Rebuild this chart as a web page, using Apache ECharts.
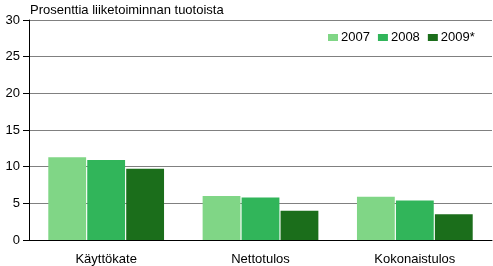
<!DOCTYPE html>
<html>
<head>
<meta charset="utf-8">
<script src="https://cdn.jsdelivr.net/npm/echarts@6/dist/echarts.min.js"></script>
<style>
	html, body { margin: 0; padding: 0; background: #fff; }
	#chart { width: 493px; height: 266px; }
</style>
</head>
<body>
<div id="chart"></div>
<script>
	var categories = ['Käyttökate', 'Nettotulos', 'Kokonaistulos'];
	var seriesNames = ['2007', '2008', '2009*'];
	var values2007 = [11.3, 6.0, 5.9];
	var values2008 = [10.9, 5.8, 5.4];
	var values2009 = [9.7, 4.0, 3.5];
	var colors = ['#80d686', '#31b55a', '#1b6e1b'];

	var font = 'Arial, "Liberation Sans", sans-serif';

	var chart = echarts.init(document.getElementById('chart'));

	function barSeries(name, data) {
		return {
			name: name,
			type: 'bar',
			data: data,
			barGap: '3%',
			barCategoryGap: '25%',
			animation: false
		};
	}

	var option = {
		color: colors,
		animation: false,
		title: {
			text: 'Prosenttia liiketoiminnan tuotoista',
			left: 30,
			top: 4,
			padding: 0,
			textStyle: { fontFamily: font, fontSize: 13, fontWeight: 'normal', color: '#000' }
		},
		legend: {
			data: seriesNames,
			left: 328,
			top: 31,
			padding: 0,
			itemWidth: 10,
			itemHeight: 7,
			itemGap: 8,
			icon: 'rect',
			textStyle: { fontFamily: font, fontSize: 13, color: '#000', padding: [0, 0, 0, -2] }
		},
		grid: { left: 29, right: 1, top: 20, bottom: 26, containLabel: false },
		xAxis: {
			type: 'category',
			data: categories,
			axisLine: { lineStyle: { color: '#000', width: 1 } },
			axisTick: { alignWithLabel: true, length: 6, lineStyle: { color: '#000' } },
			axisLabel: { fontFamily: font, fontSize: 13, color: '#000', margin: 13 }
		},
		yAxis: {
			type: 'value',
			min: 0,
			max: 30,
			interval: 5,
			axisLine: { show: true, lineStyle: { color: '#000', width: 1 } },
			axisTick: { show: true, length: 6, lineStyle: { color: '#000' } },
			axisLabel: { fontFamily: font, fontSize: 13, color: '#000', margin: 9 },
			splitLine: { lineStyle: { color: '#808080', width: 1 } }
		},
		series: [
			barSeries(seriesNames[0], values2007),
			barSeries(seriesNames[1], values2008),
			barSeries(seriesNames[2], values2009)
		]
	};

	chart.setOption(option);
</script>
</body>
</html>
